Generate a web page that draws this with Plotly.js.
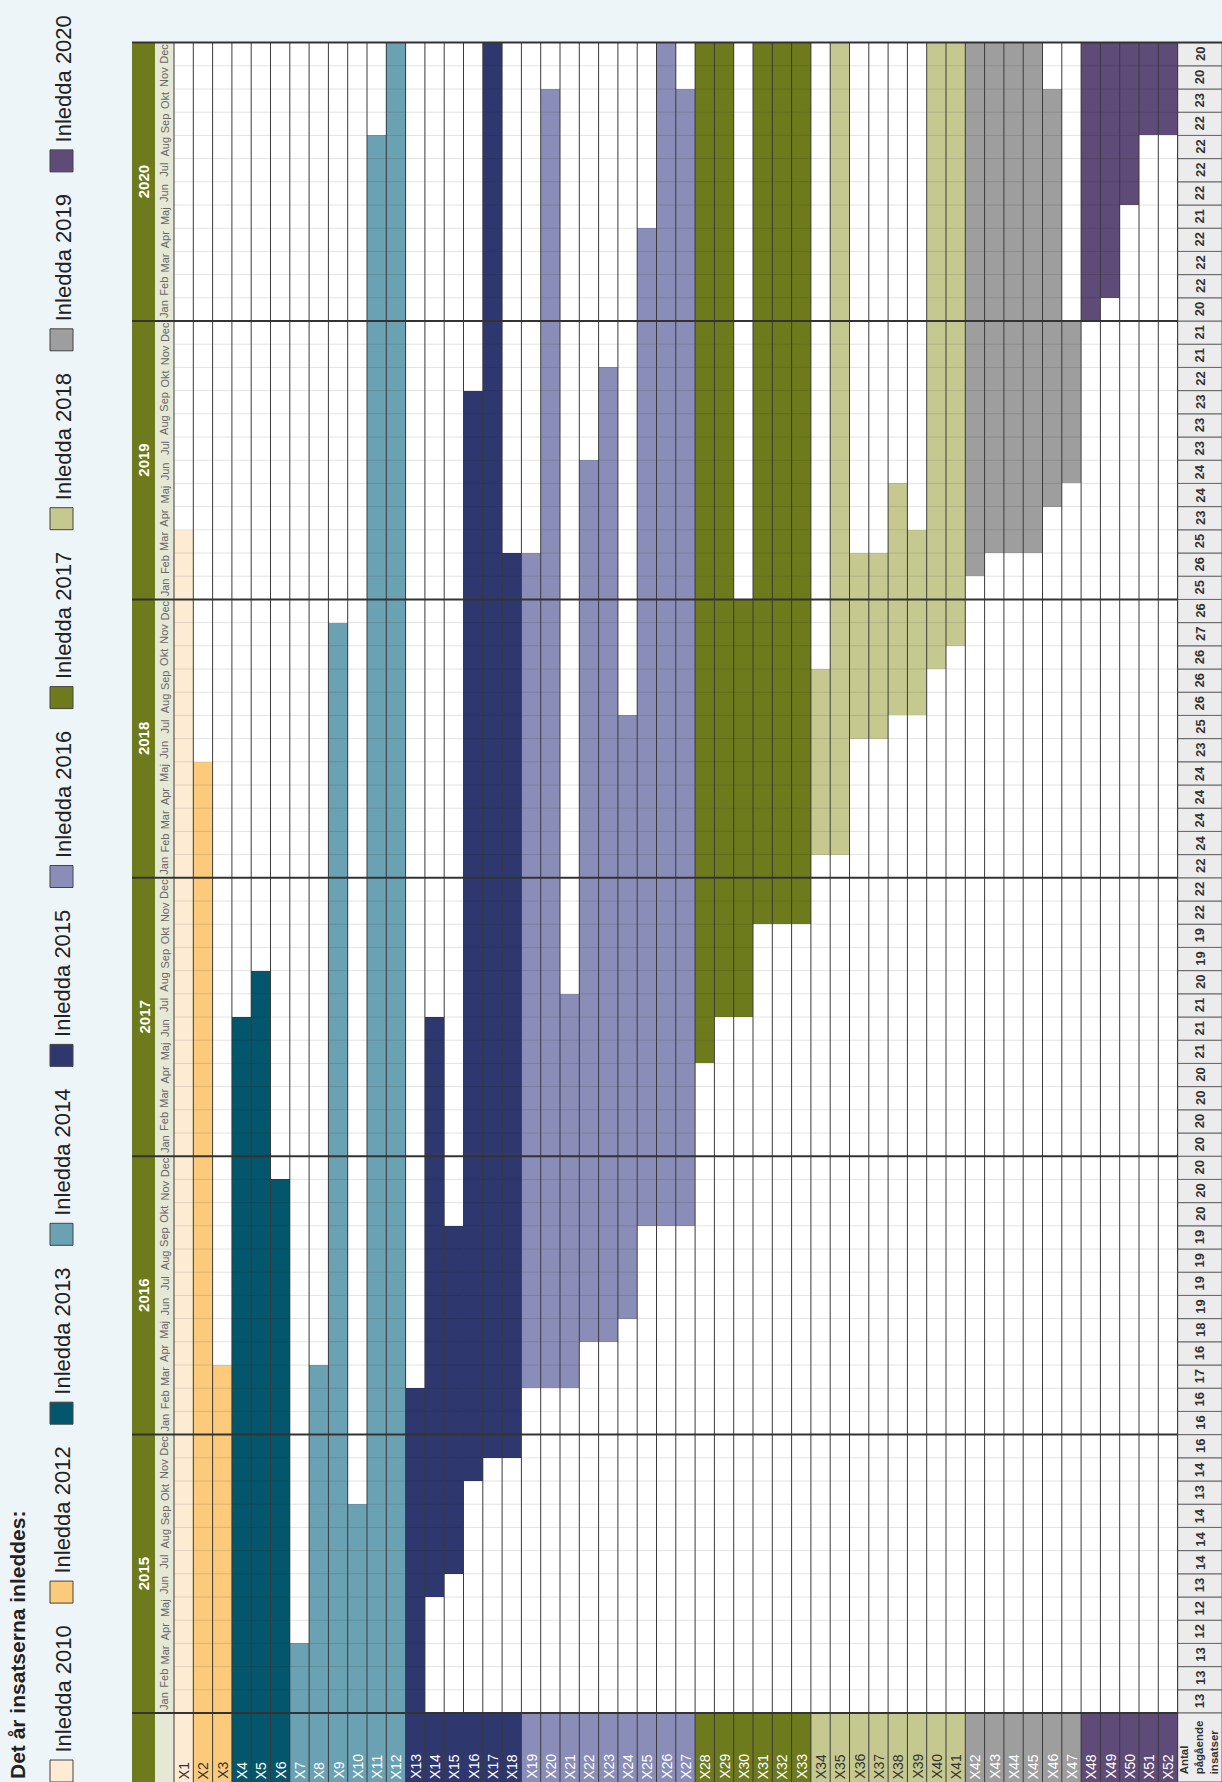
<!DOCTYPE html>
<html><head><meta charset="utf-8">
<script src="https://cdn.plot.ly/plotly-3.0.1.min.js"></script>
<style>html,body{margin:0;padding:0;background:#eef5f9;}#chart{width:1222px;height:1782px;}</style>
</head><body><div id="chart"></div>
<script>
// ---------- DATA ----------
const projects = ['X1','X2','X3','X4','X5','X6','X7','X8','X9','X10','X11','X12','X13','X14','X15','X16','X17','X18','X19','X20','X21','X22','X23','X24','X25','X26','X27','X28','X29','X30','X31','X32','X33','X34','X35','X36','X37','X38','X39','X40','X41','X42','X43','X44','X45','X46','X47','X48','X49','X50','X51','X52'];
const startedYear = ['2010','2012','2012','2013','2013','2013','2014','2014','2014','2014','2014','2014','2015','2015','2015','2015','2015','2015','2016','2016','2016','2016','2016','2016','2016','2016','2016','2017','2017','2017','2017','2017','2017','2018','2018','2018','2018','2018','2018','2018','2018','2019','2019','2019','2019','2019','2019','2020','2020','2020','2020','2020'];
// month index: 0 = Jan 2015 ... 71 = Dec 2020 ; end is exclusive
const startMonth = [0,0,0,0,0,0,0,0,0,0,0,0,0,5,6,10,11,11,14,14,14,16,16,17,21,21,21,28,30,30,34,34,34,37,37,42,42,43,43,45,46,49,50,50,50,52,53,60,61,65,68,68];
const endMonth = [51,41,15,30,32,23,3,15,47,9,68,72,14,30,21,57,72,50,50,70,31,54,58,43,64,72,70,72,72,48,72,72,72,45,72,50,50,53,51,72,72,72,72,72,72,70,60,72,72,72,72,72];
const years = ['2015','2016','2017','2018','2019','2020'];
const monthNames = ['Jan','Feb','Mar','Apr','Maj','Jun','Jul','Aug','Sep','Okt','Nov','Dec'];
const counts = [13,13,13,12,12,13,14,14,14,13,14,16,
                16,16,17,16,18,19,19,19,19,20,20,20,
                20,20,20,20,21,21,21,20,19,19,22,22,
                22,24,24,24,24,23,25,26,26,26,27,26,
                25,26,25,23,24,24,23,23,23,22,21,21,
                20,22,22,22,21,22,22,22,22,23,20,20];
const legendYears = ['2010','2012','2013','2014','2015','2016','2017','2018','2019','2020'];
const legendLabel = 'Inledda ';
const legendTitle = 'Det år insatserna inleddes:';
const countLabel = 'Antal<br>pågående<br>insatser';

// ---------- STYLE ----------
const colors = {'2010':'#fdebd4','2012':'#fbca7b','2013':'#03566b','2014':'#6aa2b3','2015':'#2e386f','2016':'#8a8db7','2017':'#6e7b1c','2018':'#c6c98f','2019':'#9e9e9e','2020':'#5f4b78'};
const textCol = {'2010':'#333','2012':'#333','2013':'#fff','2014':'#fff','2015':'#fff','2016':'#fff','2017':'#fff','2018':'#333','2019':'#fff','2020':'#fff'};
const W = 1222, H = 1782;
const colW = 19.3, x0px = 174;           // pixel of left edge of X1
const monthH = 23.2, y0px = 1713;        // pixel of Jan 2015 bottom
const xr = [-0.5 - x0px/colW, -0.5 + (W - x0px)/colW];
const yr = [-(H - y0px)/monthH, y0px/monthH];
const nM = years.length*12;
const pxX = p => -0.5 + (p - x0px)/colW;
const bandL = pxX(132), bandR = pxX(155), stripR = -0.5;
const lastCol = projects.length - 0.5;
const FONT = '"Liberation Sans",Arial,sans-serif';

const traces = [];
const shapes = [];
const ann = [];

// chart white area and left bands
shapes.push({type:'rect',xref:'x',yref:'y',x0:-0.5,x1:lastCol,y0:0,y1:nM,fillcolor:'#ffffff',line:{width:0},layer:'below'});
shapes.push({type:'rect',xref:'x',yref:'y',x0:bandL,x1:bandR,y0:yr[0],y1:nM,fillcolor:'#6e7b1c',line:{width:0},layer:'below'});
shapes.push({type:'rect',xref:'x',yref:'y',x0:bandR,x1:stripR,y0:yr[0],y1:nM,fillcolor:'#e6e8d6',line:{width:0},layer:'below'});

// bars per started-year group
legendYears.forEach(g=>{
  const xs=[],bs=[],ys=[];
  projects.forEach((p,i)=>{ if(startedYear[i]===g){xs.push(p);bs.push(startMonth[i]);ys.push(endMonth[i]-startMonth[i]);} });
  traces.push({type:'bar',x:xs,base:bs,y:ys,width:1,marker:{color:colors[g],line:{width:0}},hoverinfo:'skip',showlegend:false});
  // header cell at the bottom
  traces.push({type:'bar',x:xs,base:xs.map(()=>yr[0]),y:xs.map(()=>-yr[0]),width:1,marker:{color:colors[g],line:{width:0}},hoverinfo:'skip',showlegend:false});
  xs.forEach(p=>{
    ann.push({x:p,y:yr[0],xref:'x',yref:'y',text:p,showarrow:false,textangle:-90,xanchor:'center',yanchor:'bottom',yshift:1,
      font:{family:FONT,size:14,color:textCol[g]}});
  });
});

// count column
traces.push({type:'bar',x:counts.map(()=>'Antal'),base:counts.map((c,i)=>i),y:counts.map(()=>1),width:2.3,offset:-0.5,
  marker:{color:'#ececec',line:{color:'#666',width:1}},hoverinfo:'skip',showlegend:false});
traces.push({type:'bar',x:['Antal'],base:[yr[0]],y:[-yr[0]],width:2.3,offset:-0.5,
  marker:{color:'#ececec',line:{color:'#666',width:1}},hoverinfo:'skip',showlegend:false});
counts.forEach((c,i)=>{
  ann.push({x:52.65,y:i+0.5,xref:'x',yref:'y',text:'<b>'+c+'</b>',showarrow:false,textangle:-90,xanchor:'center',yanchor:'middle',
    font:{family:FONT,size:13,color:'#333'}});
});
ann.push({x:52.6,y:yr[0]/2,xref:'x',yref:'y',text:'<b>'+countLabel+'</b>',showarrow:false,textangle:-90,xanchor:'center',yanchor:'middle',align:'left',
  font:{family:FONT,size:11.5,color:'#333'}});

// faint month lines
for(let m=1;m<nM;m++){ if(m%12) shapes.push({type:'line',xref:'x',yref:'y',x0:-0.5,x1:lastCol,y0:m,y1:m,line:{color:'rgba(0,0,0,0.11)',width:1},layer:'above'}); }
// column separators
for(let k=0;k<=projects.length;k++){ shapes.push({type:'line',xref:'x',yref:'y',x0:k-0.5,x1:k-0.5,y0:yr[0],y1:nM,line:{color:'#3a3a3a',width:1},layer:'above'}); }
// year lines
for(let k=0;k<=years.length;k++){ shapes.push({type:'line',xref:'x',yref:'y',x0:bandL,x1:(k===years.length?xr[1]:lastCol),y0:12*k,y1:12*k,line:{color:'#333',width:2},layer:'above'}); }

// year and month labels
years.forEach((y,k)=>{
  ann.push({x:(bandL+bandR)/2,y:12*k+6,xref:'x',yref:'y',text:'<b>'+y+'</b>',showarrow:false,textangle:-90,font:{family:FONT,size:15,color:'#fff'}});
  monthNames.forEach((mn,j)=>{
    ann.push({x:(bandR+stripR)/2,y:12*k+j+0.5,xref:'x',yref:'y',text:mn,showarrow:false,textangle:-90,font:{family:FONT,size:11,color:'#666'}});
  });
});

// legend (rotated)
ann.push({x:17/W,y:1-1781/H,xref:'paper',yref:'paper',text:'<b>'+legendTitle+'</b>',showarrow:false,textangle:-90,xanchor:'center',yanchor:'bottom',
  font:{family:FONT,size:21,color:'#222'}});
legendYears.forEach((g,k)=>{
  const c = 1771 - 178.9*k;
  shapes.push({type:'rect',xref:'paper',yref:'paper',x0:50/W,x1:73/W,y0:1-(c+11)/H,y1:1-(c-11)/H,fillcolor:colors[g],line:{color:'#444',width:1}});
  ann.push({x:63/W,y:1-(c-16)/H,xref:'paper',yref:'paper',text:legendLabel+g,showarrow:false,textangle:-90,xanchor:'center',yanchor:'bottom',
    font:{family:FONT,size:22,color:'#222'}});
});

const layout = {
  width:W,height:H,margin:{l:0,r:0,t:0,b:0,pad:0},
  paper_bgcolor:'#eef5f9',plot_bgcolor:'rgba(0,0,0,0)',
  barmode:'overlay',bargap:0,showlegend:false,
  xaxis:{type:'category',categoryorder:'array',categoryarray:projects.concat(['Antal']),range:xr,visible:false,fixedrange:true},
  yaxis:{range:yr,visible:false,fixedrange:true},
  shapes:shapes,annotations:ann
};
Plotly.newPlot('chart',traces,layout,{displayModeBar:false,staticPlot:true});
</script>
</body></html>
